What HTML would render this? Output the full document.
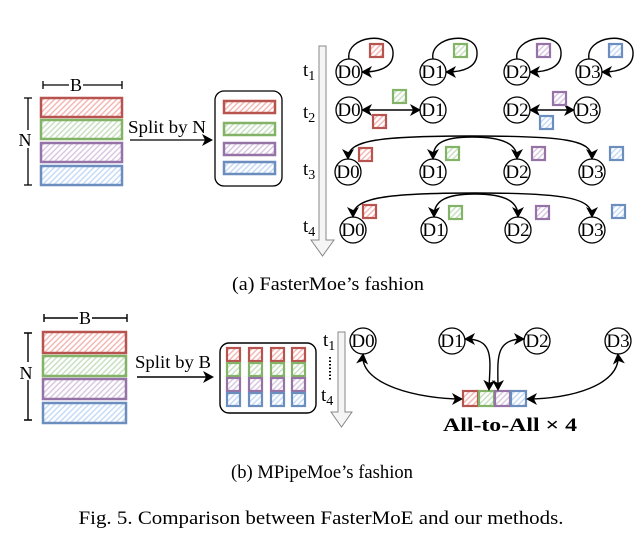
<!DOCTYPE html>
<html><head><style>
html,body{margin:0;padding:0;background:#fff;}
svg{display:block;font-family:"Liberation Serif",serif;}
</style></head><body>
<svg width="643" height="541" viewBox="0 0 643 541" xmlns="http://www.w3.org/2000/svg">
<defs>
<marker id="ah" markerWidth="12" markerHeight="12" refX="9" refY="6" orient="auto-start-reverse" markerUnits="userSpaceOnUse">
<path d="M0,0 L11,6 L0,12 L3,6 Z" fill="#000"/></marker>
<pattern id="hr" width="4" height="4" patternUnits="userSpaceOnUse" patternTransform="rotate(45)"><rect width="4" height="4" fill="#fff"/><rect width="1.5" height="4" fill="#f4b9b6"/></pattern>
<pattern id="hg" width="4" height="4" patternUnits="userSpaceOnUse" patternTransform="rotate(45)"><rect width="4" height="4" fill="#fff"/><rect width="1.5" height="4" fill="#c9e0c2"/></pattern>
<pattern id="hp" width="4" height="4" patternUnits="userSpaceOnUse" patternTransform="rotate(45)"><rect width="4" height="4" fill="#fff"/><rect width="1.5" height="4" fill="#d9c9e2"/></pattern>
<pattern id="hb" width="4" height="4" patternUnits="userSpaceOnUse" patternTransform="rotate(45)"><rect width="4" height="4" fill="#fff"/><rect width="1.5" height="4" fill="#c6dbf7"/></pattern>
</defs>
<g stroke-width="2.5">
<rect x="41" y="98" width="81" height="19" fill="url(#hr)" stroke="#b85450"/>
<rect x="41" y="120" width="81" height="19" fill="url(#hg)" stroke="#82b366"/>
<rect x="41" y="143" width="81" height="19" fill="url(#hp)" stroke="#9673a6"/>
<rect x="41" y="166" width="81" height="19" fill="url(#hb)" stroke="#6c8ebf"/>
<rect x="224" y="101" width="51" height="12" fill="url(#hr)" stroke="#b85450"/>
<rect x="224" y="123" width="51" height="12" fill="url(#hg)" stroke="#82b366"/>
<rect x="224" y="143" width="51" height="12" fill="url(#hp)" stroke="#9673a6"/>
<rect x="224" y="162" width="51" height="12" fill="url(#hb)" stroke="#6c8ebf"/>
</g>
<g stroke="#000" stroke-width="1.3" fill="none">
<path d="M43,85 H122 M43,81 V89 M122,81 V89"/>
<path d="M28,98 V185 M24,98 H32 M24,185 H32"/>
<line x1="130" y1="140" x2="211" y2="140" marker-end="url(#ah)"/>
<rect x="215" y="91" width="67" height="95" rx="9"/>
</g>
<g font-size="18" fill="#000">
<rect x="69" y="77" width="14" height="14" fill="#fff"/>
<text x="76" y="91" text-anchor="middle">B</text>
<rect x="17" y="130" width="16" height="18" fill="#fff"/>
<text x="25" y="146" text-anchor="middle">N</text>
<text x="128" y="133" textLength="78" lengthAdjust="spacingAndGlyphs">Split by N</text>
</g>
<path d="M319,46 H326 V240 H334 L322.5,256 L311,240 H319 Z" fill="#f5f5f5" stroke="#888" stroke-width="1"/>
<g font-size="19"><text x="303" y="76">t<tspan font-size="14" dy="4">1</tspan></text>
<text x="303" y="118">t<tspan font-size="14" dy="4">2</tspan></text>
<text x="303" y="175">t<tspan font-size="14" dy="4">3</tspan></text>
<text x="303" y="232">t<tspan font-size="14" dy="4">4</tspan></text></g>
<g fill="#fff" stroke="#000" stroke-width="1.3">
<circle cx="349" cy="72" r="13"/><circle cx="433" cy="72" r="13"/><circle cx="517" cy="72" r="13"/><circle cx="589" cy="72" r="13"/>
<circle cx="349" cy="110" r="13"/><circle cx="433" cy="110" r="13"/><circle cx="517" cy="110" r="13"/><circle cx="587" cy="110" r="13"/>
<circle cx="348" cy="172" r="13"/><circle cx="433" cy="172" r="13"/><circle cx="517" cy="172" r="13"/><circle cx="592" cy="172" r="13"/>
<circle cx="353" cy="230" r="13"/><circle cx="434" cy="230" r="13"/><circle cx="518" cy="230" r="13"/><circle cx="592" cy="230" r="13"/>
<circle cx="363" cy="341" r="13"/><circle cx="452" cy="341" r="13"/><circle cx="537" cy="341" r="13"/><circle cx="618" cy="341" r="13"/>
</g>
<g font-size="19" text-anchor="middle">
<text x="349" y="78">D0</text><text x="433" y="78">D1</text><text x="517" y="78">D2</text><text x="589" y="78">D3</text>
<text x="349" y="116">D0</text><text x="433" y="116">D1</text><text x="517" y="116">D2</text><text x="587" y="116">D3</text>
<text x="348" y="178">D0</text><text x="433" y="178">D1</text><text x="517" y="178">D2</text><text x="592" y="178">D3</text>
<text x="353" y="236">D0</text><text x="434" y="236">D1</text><text x="518" y="236">D2</text><text x="592" y="236">D3</text>
<text x="363" y="347">D0</text><text x="452" y="347">D1</text><text x="537" y="347">D2</text><text x="618" y="347">D3</text>
</g>
<g stroke="#000" stroke-width="1.4" fill="none">
<path d="M349,59 C345,36 392,30 393,52 C394,68 378,72 363,72" marker-end="url(#ah)"/>
<path d="M433,59 C429,36 476,30 477,52 C478,68 462,72 447,72" marker-end="url(#ah)"/>
<path d="M517,59 C513,36 560,30 561,52 C562,68 546,72 531,72" marker-end="url(#ah)"/>
<path d="M589,59 C585,36 632,30 633,52 C634,68 618,72 603,72" marker-end="url(#ah)"/>
<line x1="363" y1="110" x2="419" y2="110" marker-start="url(#ah)" marker-end="url(#ah)"/>
<line x1="531" y1="110" x2="573" y2="110" marker-start="url(#ah)" marker-end="url(#ah)"/>
<path d="M472,136 C380,136 348,140 348,158" marker-end="url(#ah)"/>
<path d="M472,136 C565,136 592,140 592,158" marker-end="url(#ah)"/>
<path d="M472,137 C440,137 433,145 433,158" marker-end="url(#ah)"/>
<path d="M472,137 C505,137 517,145 517,158" marker-end="url(#ah)"/>
<path d="M475,193 C385,193 353,198 353,216" marker-end="url(#ah)"/>
<path d="M475,193 C565,193 592,198 592,216" marker-end="url(#ah)"/>
<path d="M475,194 C442,194 434,203 434,216" marker-end="url(#ah)"/>
<path d="M475,194 C508,194 518,203 518,216" marker-end="url(#ah)"/>
</g>
<g stroke-width="2.2">
<rect x="370" y="44" width="13" height="13" fill="url(#hr)" stroke="#b85450"/>
<rect x="454" y="44" width="13" height="13" fill="url(#hg)" stroke="#82b366"/>
<rect x="537" y="44" width="13" height="13" fill="url(#hp)" stroke="#9673a6"/>
<rect x="609" y="44" width="13" height="13" fill="url(#hb)" stroke="#6c8ebf"/>
<rect x="393" y="90" width="13" height="13" fill="url(#hg)" stroke="#82b366"/>
<rect x="373" y="115" width="13" height="13" fill="url(#hr)" stroke="#b85450"/>
<rect x="553" y="92" width="13" height="13" fill="url(#hp)" stroke="#9673a6"/>
<rect x="540" y="116" width="13" height="13" fill="url(#hb)" stroke="#6c8ebf"/>
<rect x="359" y="148" width="13" height="13" fill="url(#hr)" stroke="#b85450"/>
<rect x="446" y="147" width="13" height="13" fill="url(#hg)" stroke="#82b366"/>
<rect x="532" y="147" width="13" height="13" fill="url(#hp)" stroke="#9673a6"/>
<rect x="610" y="147" width="13" height="13" fill="url(#hb)" stroke="#6c8ebf"/>
<rect x="363" y="205" width="13" height="13" fill="url(#hr)" stroke="#b85450"/>
<rect x="449" y="206" width="13" height="13" fill="url(#hg)" stroke="#82b366"/>
<rect x="536" y="206" width="13" height="13" fill="url(#hp)" stroke="#9673a6"/>
<rect x="612" y="205" width="13" height="13" fill="url(#hb)" stroke="#6c8ebf"/>
</g>
<text x="328" y="290" font-size="19" text-anchor="middle" textLength="192" lengthAdjust="spacingAndGlyphs">(a)  FasterMoe’s fashion</text>

<g stroke-width="2.5">
<rect x="43" y="332" width="83" height="21" fill="url(#hr)" stroke="#b85450"/>
<rect x="43" y="356" width="83" height="20" fill="url(#hg)" stroke="#82b366"/>
<rect x="43" y="379" width="83" height="20" fill="url(#hp)" stroke="#9673a6"/>
<rect x="43" y="403" width="83" height="20" fill="url(#hb)" stroke="#6c8ebf"/>
</g>
<g stroke-width="2.2">
<g fill="url(#hr)" stroke="#b85450"><rect x="227" y="348" width="13" height="13"/><rect x="249" y="348" width="13" height="13"/><rect x="271" y="348" width="13" height="13"/><rect x="292" y="348" width="13" height="13"/></g>
<g fill="url(#hg)" stroke="#82b366"><rect x="227" y="363" width="13" height="13"/><rect x="249" y="363" width="13" height="13"/><rect x="271" y="363" width="13" height="13"/><rect x="292" y="363" width="13" height="13"/></g>
<g fill="url(#hp)" stroke="#9673a6"><rect x="227" y="378" width="13" height="13"/><rect x="249" y="378" width="13" height="13"/><rect x="271" y="378" width="13" height="13"/><rect x="292" y="378" width="13" height="13"/></g>
<g fill="url(#hb)" stroke="#6c8ebf"><rect x="227" y="393" width="13" height="13"/><rect x="249" y="393" width="13" height="13"/><rect x="271" y="393" width="13" height="13"/><rect x="292" y="393" width="13" height="13"/></g>
<rect x="463" y="391" width="15" height="15" fill="url(#hr)" stroke="#b85450"/>
<rect x="479" y="391" width="15" height="15" fill="url(#hg)" stroke="#82b366"/>
<rect x="495" y="391" width="15" height="15" fill="url(#hp)" stroke="#9673a6"/>
<rect x="511" y="391" width="15" height="15" fill="url(#hb)" stroke="#6c8ebf"/>
</g>
<g stroke="#000" stroke-width="1.4" fill="none">
<path d="M44,318 H127 M44,314 V322 M127,314 V322"/>
<path d="M28,333 V420 M24,333 H32 M24,420 H32"/>
<line x1="137" y1="377" x2="212" y2="377" marker-end="url(#ah)"/>
<rect x="220" y="343" width="96" height="70" rx="9"/>
<line x1="330" y1="357" x2="330" y2="381" stroke-dasharray="1.5,2" stroke-width="2"/>
<path d="M363,355 C360,385 420,399 461,399" marker-start="url(#ah)" marker-end="url(#ah)"/>
<path d="M618,355 C621,385 570,399 528,399" marker-start="url(#ah)" marker-end="url(#ah)"/>
<path d="M466,339 C495,339 490,360 489,389" marker-start="url(#ah)" marker-end="url(#ah)"/>
<path d="M523,339 C494,339 498,360 498,389" marker-start="url(#ah)" marker-end="url(#ah)"/>
</g>
<g font-size="18">
<rect x="78" y="310" width="14" height="16" fill="#fff"/>
<text x="85" y="324" text-anchor="middle">B</text>
<rect x="18" y="362" width="16" height="18" fill="#fff"/>
<text x="26" y="379" text-anchor="middle">N</text>
<text x="135" y="368" textLength="76" lengthAdjust="spacingAndGlyphs">Split by B</text>
</g>
<path d="M338,332 H345 V412 H352 L341.5,427 L331,412 H338 Z" fill="#f5f5f5" stroke="#888" stroke-width="1"/>
<g font-size="19"><text x="323" y="346">t<tspan font-size="14" dy="4">1</tspan></text>
<text x="321" y="401">t<tspan font-size="14" dy="4">4</tspan></text></g>
<text x="510" y="431" font-size="19" font-weight="bold" text-anchor="middle" textLength="134" lengthAdjust="spacingAndGlyphs">All-to-All × 4</text>
<text x="322" y="478" font-size="19" text-anchor="middle" textLength="182" lengthAdjust="spacingAndGlyphs">(b)  MPipeMoe’s fashion</text>
<text x="321" y="524" font-size="19" text-anchor="middle" textLength="485" lengthAdjust="spacingAndGlyphs">Fig. 5.  Comparison between FasterMoE and our methods.</text>
</svg>
</body></html>
